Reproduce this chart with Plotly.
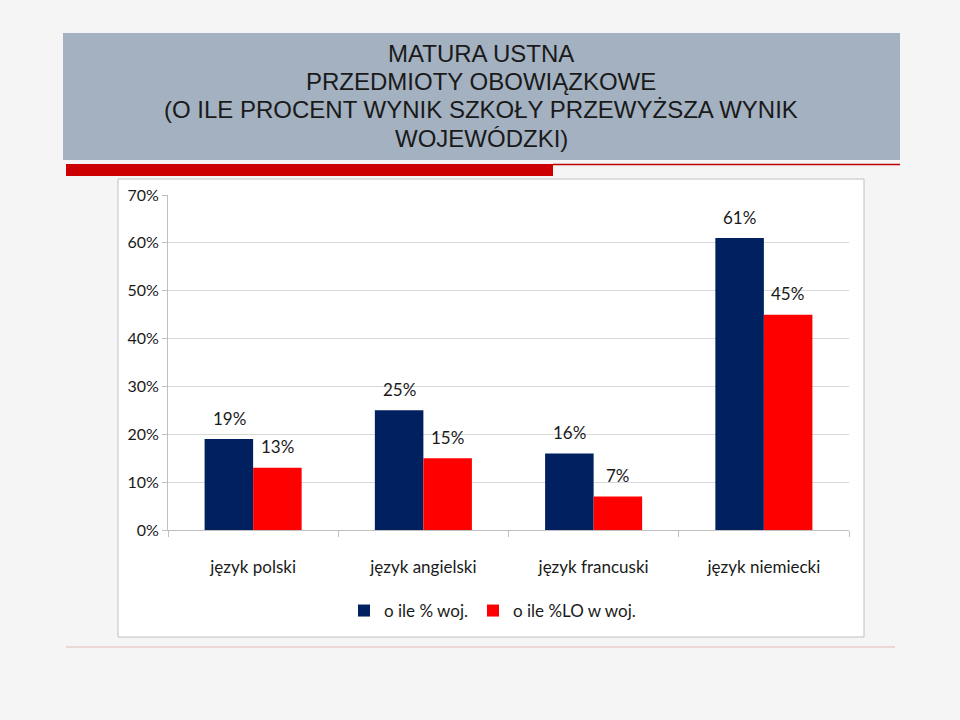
import plotly.graph_objects as go

# dane
przedmioty = ['język polski', 'język angielski', 'język francuski', 'język niemiecki']
woj = [0.19, 0.25, 0.16, 0.61]
lo_woj = [0.13, 0.15, 0.07, 0.45]
seria_nazwy = ['o ile % woj.', 'o ile %LO w woj.']
kolory = ['#002060', '#ff0000']
y_ticks = [0, 0.1, 0.2, 0.3, 0.4, 0.5, 0.6, 0.7]
tytul = ['MATURA USTNA', 'PRZEDMIOTY OBOWIĄZKOWE',
         '(O ILE PROCENT WYNIK SZKOŁY PRZEWYŻSZA WYNIK', 'WOJEWÓDZKI)']

W, H = 960, 720
L, R, T, B = 168, 849, 195, 530  # obszar wykresu w pikselach


def px_x(x):
    return (x - L) / (R - L)


def px_y(y):
    return (B - y) / (B - T)


fig = go.Figure()
for nazwa, wartosci, kolor in zip(seria_nazwy, [woj, lo_woj], kolory):
    fig.add_trace(go.Bar(x=przedmioty, y=wartosci, name=nazwa,
                         marker=dict(color=kolor, line=dict(width=0))))

# etykiety nad słupkami
annotations = []
for shift, wartosci in zip([-24, 24], [woj, lo_woj]):
    for p, v in zip(przedmioty, wartosci):
        annotations.append(dict(x=p, y=v, text=f'{v:.0%}', showarrow=False,
                                xshift=shift, yshift=21,
                                font=dict(family='Lato', size=17, color='#1a1a1a')))

# tytuł w szarej ramce, linia po linii
for i, linia in enumerate(tytul):
    annotations.append(dict(text=linia, xref='paper', yref='paper', x=px_x(481),
                            y=px_y(53 + i * 28.5), xanchor='center', yanchor='middle',
                            showarrow=False,
                            font=dict(family='Liberation Sans', size=24, color='#1a1a1a')))

shapes = [
    # ramka tytułu
    dict(type='rect', xref='paper', yref='paper', x0=px_x(63), x1=px_x(900),
         y0=px_y(160), y1=px_y(33), fillcolor='#a3b1c1', line=dict(width=0), layer='below'),
    # czerwony pasek
    dict(type='rect', xref='paper', yref='paper', x0=px_x(66), x1=px_x(553),
         y0=px_y(176), y1=px_y(164), fillcolor='#cc0000', line=dict(width=0), layer='below'),
    dict(type='line', xref='paper', yref='paper', x0=px_x(553), x1=px_x(900),
         y0=px_y(164.5), y1=px_y(164.5), line=dict(color='#c00000', width=1.5), layer='below'),
    # białe tło wykresu
    dict(type='rect', xref='paper', yref='paper', x0=px_x(118), x1=px_x(864),
         y0=px_y(637), y1=px_y(179), fillcolor='white', line=dict(color='#c0c0c0', width=1),
         layer='below'),
    # dolna linia
    dict(type='line', xref='paper', yref='paper', x0=px_x(66), x1=px_x(895),
         y0=px_y(647), y1=px_y(647), line=dict(color='#e6b8b8', width=1), layer='below'),
]

fig.update_layout(
    width=W, height=H,
    margin=dict(l=L, r=W - R, t=T, b=H - B),
    paper_bgcolor='#f5f5f5',
    plot_bgcolor='white',
    barmode='group', bargap=0.43, bargroupgap=0,
    font=dict(family='Lato', color='#1a1a1a'),
    xaxis=dict(showgrid=False, showline=True, linecolor='#bfbfbf', linewidth=1,
               ticks='outside', tickson='boundaries', ticklen=6, tickcolor='#bfbfbf',
               tickfont=dict(size=17), ticklabelstandoff=22),
    yaxis=dict(range=[0, 0.7], tickvals=y_ticks, tickformat='.0%',
               showgrid=True, gridcolor='#d9d9d9', gridwidth=1,
               showline=True, linecolor='#bfbfbf', linewidth=1,
               ticks='outside', ticklen=5, tickcolor='#bfbfbf',
               tickfont=dict(size=16), zeroline=False),
    legend=dict(orientation='h', x=px_x(344), xanchor='left', y=px_y(611), yanchor='middle',
                font=dict(size=17), bgcolor='rgba(0,0,0,0)', itemwidth=30,
                traceorder='normal'),
    annotations=annotations,
    shapes=shapes,
)

fig.write_html('out.html', config={'displayModeBar': False},
               post_script="document.body.style.margin='0';")
